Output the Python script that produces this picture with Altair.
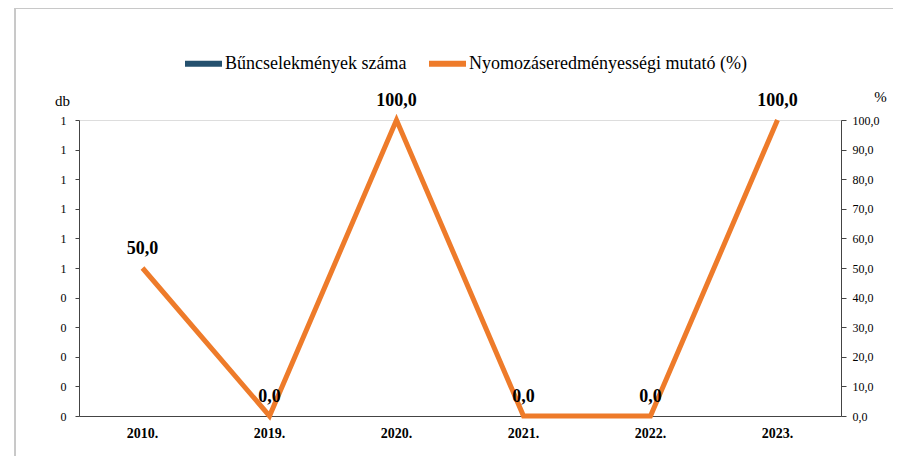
import altair as alt
import pandas as pd

years = ["2010.", "2019.", "2020.", "2021.", "2022.", "2023."]
crimes = [0, 0, 0, 0, 0, 0]
rate = [50.0, 0.0, 100.0, 0.0, 0.0, 100.0]
series = ["Bűncselekmények száma", "Nyomozáseredményességi mutató (%)"]
colors = ["#24506e", "#ee7b2a"]
left_ticks = [0, 0.1, 0.2, 0.3, 0.4, 0.5, 0.6, 0.7, 0.8, 0.9, 1.0]
right_ticks = [0, 10, 20, 30, 40, 50, 60, 70, 80, 90, 100]

df = pd.DataFrame({
    "year": years,
    "crimes": crimes,
    "rate": rate,
    "s_bar": series[0],
    "s_line": series[1],
})

serif = "'Times New Roman', 'Liberation Serif', serif"

x_axis = alt.Axis(title=None, labelAngle=0, labelFont=serif, labelFontWeight="bold",
                  labelFontSize=14, labelColor="black", ticks=False, labelPadding=10,
                  domainColor="#444", grid=False)
x_enc = alt.X("year:N", sort=years, bandPosition=0.5,
              scale=alt.Scale(paddingInner=0, paddingOuter=0), axis=x_axis)

bars = alt.Chart(df).mark_bar(color=colors[0]).encode(
    x=alt.X("year:N", sort=years, scale=alt.Scale(paddingInner=0, paddingOuter=0), axis=x_axis),
    y=alt.Y("crimes:Q", scale=alt.Scale(domain=[0, 1], nice=False),
            axis=alt.Axis(orient="left", title="db", titleAngle=0, titleX=-17, titleY=-20,
                          titleFont=serif, titleFontWeight="normal", titleFontSize=15,
                          titleColor="black", titleAlign="center", titleBaseline="middle",
                          values=left_ticks, labelExpr="datum.value < 0.45 ? '0' : '1'",
                          labelFont=serif, labelFontSize=12, labelColor="black",
                          tickSize=4, tickColor="#444", domainColor="#444",
                          labelPadding=9, grid=False)),
)

y_rate = alt.Y("rate:Q", scale=alt.Scale(domain=[0, 100], nice=False),
               axis=alt.Axis(orient="right", title="%", titleAngle=0, titleX=39, titleY=-24,
                             titleFont=serif, titleFontWeight="normal", titleFontSize=15,
                             titleColor="black", titleAlign="center", titleBaseline="middle",
                             values=right_ticks,
                             labelExpr="replace(format(datum.value, '.1f'), '.', ',')",
                             labelFont=serif, labelFontSize=12, labelColor="black",
                             tickSize=5, tickColor="#444", domainColor="#444",
                             labelPadding=6, grid=False))

line = alt.Chart(df).mark_line(strokeWidth=5).encode(
    x=x_enc,
    y=y_rate,
    color=alt.Color("s_line:N", scale=alt.Scale(domain=series, range=colors),
                    legend=alt.Legend(title=None, orient="none", legendX=103, legendY=-78,
                                      direction="horizontal", symbolType="stroke",
                                      symbolStrokeWidth=6, symbolSize=1369,
                                      labelFont=serif, labelFontSize=18, labelColor="black",
                                      columnPadding=10, labelOffset=0, labelLimit=400)),
)

labels = alt.Chart(df).transform_calculate(
    lab="replace(format(datum.rate, '.1f'), '.', ',')"
).mark_text(font=serif, fontSize=18, fontWeight="bold", color="black",
            baseline="alphabetic", dy=-14).encode(
    x=x_enc,
    y=y_rate,
    text="lab:N",
)

# faint frame of the scanned figure
frame_top = alt.Chart(df).mark_rule(color="#c8c8c8", strokeWidth=1).encode(
    x=alt.value(-64), x2=alt.value(822), y=alt.value(-112))
frame_left = alt.Chart(df).mark_rule(color="#c8c8c8", strokeWidth=1).encode(
    x=alt.value(-64), y=alt.value(-112), y2=alt.value(336))

chart = alt.layer(bars, alt.layer(line, labels), frame_top, frame_left).resolve_scale(
    y="independent"
).properties(
    width=762, height=296,
    autosize=alt.AutoSizeParams(type="none"),
    padding={"left": 71, "top": 112, "right": 52, "bottom": 40},
).configure_view(stroke=None).configure(
    background="white", font=serif
).configure_legend(labelFont=serif).configure_axis(labelFont=serif, titleFont=serif)

chart.save("out.html", embed_options={"renderer": "svg", "actions": False})
